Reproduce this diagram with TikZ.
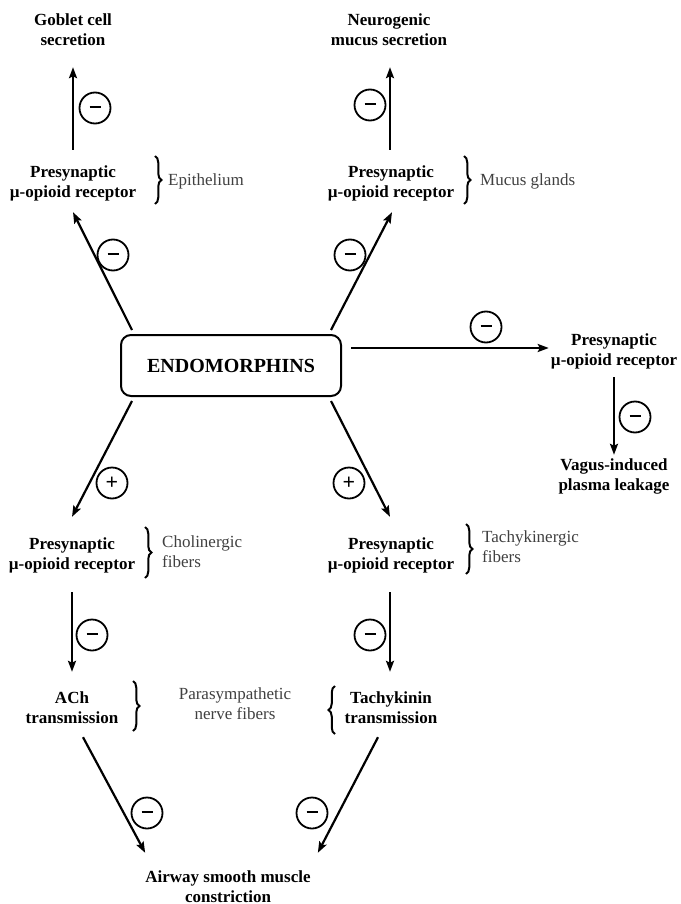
\documentclass[tikz,border=0pt]{standalone}
\usepackage{fontspec}
\setmainfont{Liberation Serif}
\usetikzlibrary{arrows.meta,calc,decorations.pathreplacing}

\begin{document}
\begin{tikzpicture}[x=1pt,y=-1pt,
		lbl/.style={font=\fontsize{17}{20}\selectfont\bfseries,align=center,inner sep=0pt,text height=32pt,text depth=4pt},
		note/.style={font=\fontsize{17}{20}\selectfont,text=black!75,inner sep=0pt},
		sgn/.style={circle,draw,line width=1.8pt,minimum size=31pt,inner sep=0pt,font=\fontsize{22}{22}\selectfont\bfseries},
		arr/.style={line width=2.2pt,-{Stealth[length=11pt,width=8pt,inset=2pt]}},
		brc/.style={decorate,decoration={brace,amplitude=6.5pt},line width=2pt}]
		\useasboundingbox (0,0) rectangle (680,904);

		\node[draw,rounded corners=10pt,line width=2pt,minimum width=220pt,minimum height=61pt,font=\fontsize{20}{24}\selectfont\bfseries] (endo) at (231,365.5) {ENDOMORPHINS};

		\node[lbl] (goblet) at (73,32) {Goblet cell\\secretion};
		\node[lbl] (neuro) at (389,32) {Neurogenic\\mucus secretion};
		\node[lbl] (recEpi) at (73,183) {Presynaptic\\µ-opioid receptor};
		\node[lbl] (recMuc) at (391,183) {Presynaptic\\µ-opioid receptor};
		\node[lbl] (recVag) at (614,351) {Presynaptic\\µ-opioid receptor};
		\node[lbl] (vagus) at (614,476) {Vagus-induced\\plasma leakage};
		\node[lbl] (recChol) at (72,555) {Presynaptic\\µ-opioid receptor};
		\node[lbl] (recTk) at (391,555) {Presynaptic\\µ-opioid receptor};
		\node[lbl] (ach) at (72,709) {ACh\\transmission};
		\node[lbl] (tk) at (391,709) {Tachykinin\\transmission};
		\node[lbl] (airway) at (228,888) {Airway smooth muscle\\constriction};

		\node[note,anchor=west] (epi) at (168,181) {Epithelium};
		\node[note,anchor=west] (glands) at (480,181) {Mucus glands};
		\node[note,anchor=west,align=left,text height=32pt,text depth=4pt] (chol) at (162,553) {Cholinergic\\fibers};
		\node[note,anchor=west,align=left,text height=32pt,text depth=4pt] (tachyk) at (482,548) {Tachykinergic\\fibers};
		\node[note,align=center,text height=32pt,text depth=4pt] (para) at (235,705) {Parasympathetic\\nerve fibers};

		\draw[brc] (155,156) -- (155,204);
		\draw[brc] (464,156) -- (464,204);
		\draw[brc] (145,527) -- (145,578);
		\draw[brc] (466,524) -- (466,574);
		\draw[brc] (133,681) -- (133,731);
		\draw[brc] (335,734) -- (335,686);

		\draw[arr] ($(recEpi.north)+(0,-15)$) -- ($(goblet.south)+(0,17)$);
		\draw[arr] ($(recMuc.north)+(-1,-15)$) -- ($(neuro.south)+(1,17)$);
		\draw[arr] ($(endo.north west)+(12,-4)$) -- ($(recEpi.south)+(0,11)$);
		\draw[arr] ($(endo.north east)+(-11,-4)$) -- ($(recMuc.south)+(1,11)$);
		\draw[arr] ($(endo.east)+(9,-17.5)$) -- ($(recVag.west)+(-2,-3)$);
		\draw[arr] ($(recVag.south)+(0,8)$) -- ($(vagus.north)+(0,-3)$);
		\draw[arr] ($(endo.south west)+(12,4)$) -- ($(recChol.north)+(0,-20)$);
		\draw[arr] ($(endo.south east)+(-11,4)$) -- ($(recTk.north)+(-1,-20)$);
		\draw[arr] ($(recChol.south)+(0,19)$) -- ($(ach.north)+(0,-19)$);
		\draw[arr] ($(recTk.south)+(-1,19)$) -- ($(tk.north)+(-1,-19)$);
		\draw[arr] ($(ach.south)+(11,10)$) -- ($(airway.north west)+(0,-17)$);
		\draw[arr] ($(tk.south)+(-13,10)$) -- ($(airway.north east)+(7,-17)$);

		\node[sgn] (sGob) at (95,108) {\rule[2pt]{11pt}{1.4pt}};
		\node[sgn] (sNeu) at (370,105) {\rule[2pt]{11pt}{1.4pt}};
		\node[sgn] (sEpi) at (113,255) {\rule[2pt]{11pt}{1.4pt}};
		\node[sgn] (sMuc) at (350,255) {\rule[2pt]{11pt}{1.4pt}};
		\node[sgn] (sVag) at (486,327) {\rule[2pt]{11pt}{1.4pt}};
		\node[sgn] (sLeak) at (635,417) {\rule[2pt]{11pt}{1.4pt}};
		\node[sgn] (sChol) at (112,483) {+};
		\node[sgn] (sTk) at (349,483) {+};
		\node[sgn] (sACh) at (92,635) {\rule[2pt]{11pt}{1.4pt}};
		\node[sgn] (sTkT) at (370,635) {\rule[2pt]{11pt}{1.4pt}};
		\node[sgn] (sAir) at (147,813) {\rule[2pt]{11pt}{1.4pt}};
		\node[sgn] (sAirT) at (312,813) {\rule[2pt]{11pt}{1.4pt}};
\end{tikzpicture}
\end{document}
